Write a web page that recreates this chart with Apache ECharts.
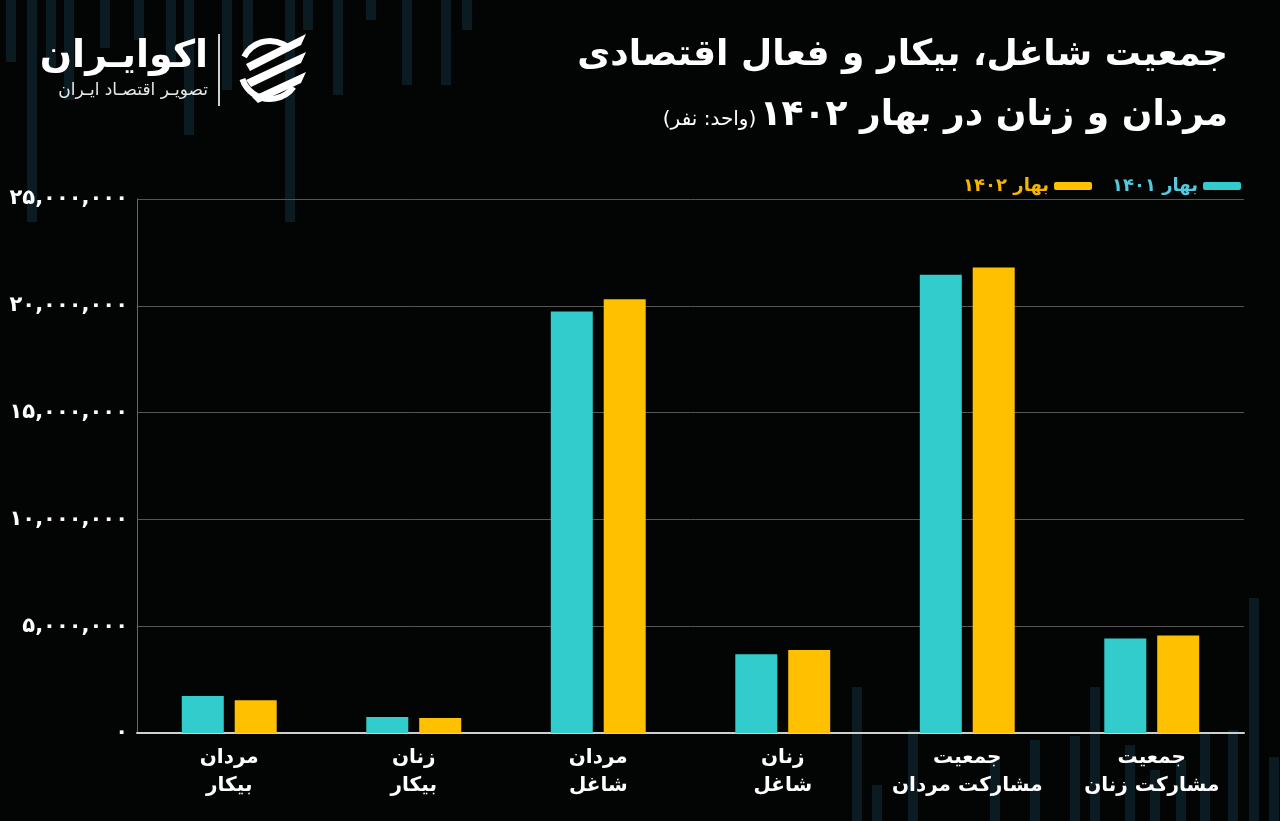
<!DOCTYPE html>
<html>
<head>
<meta charset="utf-8">
<script src="https://cdn.jsdelivr.net/npm/echarts@6/dist/echarts.min.js"></script>
<style>
html,body{margin:0;padding:0;background:#030404;}
#chart{width:1280px;height:821px;}
</style>
</head>
<body>
<div id="chart"></div>
<script>
// ---- data ----
const categories = ['مردان\nبیکار', 'زنان\nبیکار', 'مردان\nشاغل', 'زنان\nشاغل', 'جمعیت\nمشارکت مردان', 'جمعیت\nمشارکت زنان'];
const seriesNames = ['بهار ۱۴۰۱', 'بهار ۱۴۰۲'];
const spring1401 = [1730000, 750000, 19730000, 3690000, 21450000, 4420000];
const spring1402 = [1530000, 700000, 20310000, 3880000, 21790000, 4560000];
const yTicks = { min: 0, max: 25000000, interval: 5000000 };
const titleLine1 = 'جمعیت شاغل، بیکار و فعال اقتصادی';
const titleLine2 = 'مردان و زنان در بهار ۱۴۰۲';
const unitText = '(واحد: نفر)';
const logoName = 'اکوایـران';
const logoSub = 'تصویـر اقتصـاد ایـران';

const FONT = '"DejaVu Sans", "Noto Sans", sans-serif';
const CYAN = '#33CCCC';
const YELLOW = '#FFC000';
const fa = s => String(s).replace(/[0-9]/g, d => '۰۱۲۳۴۵۶۷۸۹'[d]);

// decorative faint background stripes [x, y0, y1]
const deco = [
  [6,0,62],[27,0,222],[46,0,70],[64,0,100],[100,0,48],[134,0,40],[166,0,62],[184,0,135],
  [222,0,90],[243,0,52],[285,0,222],[303,0,30],[333,0,95],[366,0,20],[402,0,85],[441,0,85],[462,0,30],
  [852,687,821],[872,785,821],[908,730,821],[990,760,821],[1030,740,821],[1070,736,821],
  [1090,687,821],[1125,745,821],[1150,770,821],[1176,760,821],[1200,733,821],[1228,730,821],[1249,598,821],[1269,757,821]
];

const chart = echarts.init(document.getElementById('chart'));

const graphics = deco.map(d => ({
  type: 'rect', z: -10, silent: true,
  shape: { x: d[0], y: d[1], width: 10, height: d[2] - d[1] },
  style: { fill: '#0a1c22' }
}));

// logo
graphics.push(
  { type: 'text', x: 208, y: 38, style: { text: logoName, font: 'bold 38px ' + FONT, fill: '#ffffff', align: 'right' } },
  { type: 'text', x: 208, y: 82, style: { text: logoSub, font: '17px ' + FONT, fill: '#e8e8e8', align: 'right' } },
  { type: 'rect', shape: { x: 218, y: 34, width: 2, height: 72 }, style: { fill: '#d0d0d0' } },
  { type: 'group', x: 270, y: 70, children: [
    { type: 'arc', shape: { cx: 0, cy: 0, r: 29, startAngle: Math.PI * 0.2, endAngle: Math.PI * 0.9 }, style: { stroke: '#fff', lineWidth: 6, fill: null } },
    { type: 'arc', shape: { cx: 0, cy: 0, r: 29, startAngle: Math.PI * 1.15, endAngle: Math.PI * 1.75 }, style: { stroke: '#fff', lineWidth: 6, fill: null } },
    { type: 'polygon', shape: { points: [[-24,-6],[36,-36],[31,-25],[-20,1]] }, style: { fill: '#fff' } },
    { type: 'polygon', shape: { points: [[-24,10],[36,-18],[31,-7],[-19,17]] }, style: { fill: '#fff' } },
    { type: 'polygon', shape: { points: [[-18,27],[36,2],[31,13],[-12,33]] }, style: { fill: '#fff' } }
  ]}
);

// titles
graphics.push(
  { type: 'text', right: 52, top: 38, style: { text: titleLine1, font: 'bold 36px ' + FONT, fill: '#ffffff', align: 'right' } },
  { type: 'text', right: 52, top: 98, style: {
      text: '{u|' + unitText + '} {t|' + titleLine2 + '}',
      fill: '#ffffff',
      rich: {
        u: { font: '20px ' + FONT, fill: '#ffffff', verticalAlign: 'bottom', padding: [0,0,4,0] },
        t: { font: 'bold 36px ' + FONT, fill: '#ffffff' }
      }
  } }
);

chart.setOption({
  backgroundColor: '#030404',
  animation: false,
  textStyle: { fontFamily: FONT },
  graphic: graphics,
  legend: {
    right: 34, top: 172,
    align: 'right',
    icon: 'roundRect',
    itemWidth: 38, itemHeight: 8, itemGap: 20, itemTextGap: 6,
    data: [
      { name: seriesNames[1], textStyle: { color: '#F7B500' } },
      { name: seriesNames[0], textStyle: { color: '#55C8DD' } }
    ],
    textStyle: { fontSize: 18, fontWeight: 'bold', fontFamily: FONT }
  },
  grid: { left: 137, right: 36, top: 199, bottom: 88, containLabel: false },
  xAxis: {
    type: 'category',
    data: categories,
    axisLine: { show: true, lineStyle: { color: '#cfcfcf', width: 2 } },
    axisTick: { show: false },
    axisLabel: { color: '#ffffff', fontSize: 20, fontWeight: 'bold', lineHeight: 28, margin: 11, fontFamily: FONT, interval: 0 }
  },
  yAxis: {
    type: 'value',
    min: yTicks.min, max: yTicks.max, interval: yTicks.interval,
    axisLine: { show: true, lineStyle: { color: '#666666', width: 1 } },
    axisTick: { show: false },
    splitLine: { lineStyle: { color: '#555555', width: 1 } },
    axisLabel: {
      color: '#ffffff', fontSize: 21, fontWeight: 'bold', margin: 9, fontFamily: FONT,
      formatter: v => fa(v.toLocaleString('en-US'))
    }
  },
  series: [
    { name: seriesNames[0], type: 'bar', data: spring1401, barWidth: 42, barGap: '26%', itemStyle: { color: CYAN } },
    { name: seriesNames[1], type: 'bar', data: spring1402, barWidth: 42, barGap: '26%', itemStyle: { color: YELLOW } }
  ]
});
</script>
</body>
</html>
